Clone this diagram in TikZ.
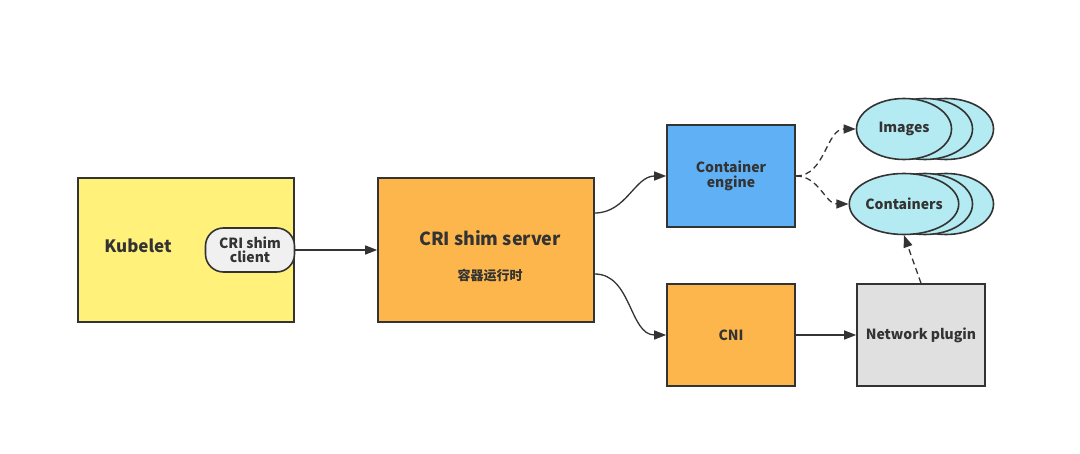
\documentclass[tikz,border=0pt]{standalone}
\usepackage{fontspec}
\setmainfont{Noto Sans CJK SC}
\usetikzlibrary{shapes.geometric, arrows.meta}
\definecolor{ink}{HTML}{333333}
\definecolor{kyellow}{HTML}{FFF17A}
\definecolor{korange}{HTML}{FDB64B}
\definecolor{kblue}{HTML}{60B0F5}
\definecolor{kgray}{HTML}{E0E0E0}
\definecolor{kcyan}{HTML}{B4EBF2}

\begin{document}
\begin{tikzpicture}[x=1pt,y=-1pt,
  box/.style={draw=ink,line width=1.6pt,text=ink,font=\bfseries\fontsize{14}{17}\selectfont,align=center,inner sep=0pt},
  stack/.style={draw=ink,line width=1.6pt,fill=kcyan,ellipse,minimum width=95pt,minimum height=61pt,inner sep=0pt,text=ink,font=\bfseries\fontsize{14}{17}\selectfont},
  link/.style={draw=ink,line width=1.3pt,-{Triangle[length=12pt,width=9pt]}}]
  \useasboundingbox (0,0) rectangle (1080,454);
  % boxes
  \path (186,250) node[box,fill=kyellow,minimum width=216pt,minimum height=144pt] (kubelet) {}
  (138,246) node[text=ink,font=\bfseries\fontsize{17}{20}\selectfont] (kubtext) {Kubelet}
  (250,250) node[box,fill=white!94!black,rounded corners=18pt,minimum width=89pt,minimum height=44pt] (client) {CRI shim\\[-3pt]client}
  (486,250) node[box,fill=korange,minimum width=216pt,minimum height=144pt] (server) {}
  (490,238) node[text=ink,font=\bfseries\fontsize{18}{21}\selectfont] (srvtext) {CRI shim server}
  (490,276) node[text=ink,font=\bfseries\fontsize{13}{15}\selectfont] (runtime) {容器运行时}
  (731,176) node[box,fill=kblue,minimum width=128pt,minimum height=102pt] (engine) {Container\\[-2pt]engine}
  (731,335) node[box,fill=korange,minimum width=128pt,minimum height=102pt] (cni) {CNI}
  (921,335) node[box,fill=kgray,minimum width=128pt,minimum height=102pt] (plugin) {Network plugin};
  % stacked ellipses
  \path (946,129) node[stack] (img3) {} (925,129) node[stack] (img2) {} (904,129) node[stack] (img1) {Images}
  (946,204) node[stack] (ctr3) {} (925,204) node[stack] (ctr2) {} (904,204) node[stack] (ctr1) {Containers};
  % connectors
  \draw[link] (client.east) -- (server.west);
  \draw[link] (server.east |- 0,213) to[out=0,in=180] (engine.west);
  \draw[link] (server.east |- 0,274) to[out=0,in=180] (cni.west);
  \draw[link] (cni.east) -- (plugin.west);
  \draw[link,dashed,dash pattern=on 6pt off 4pt] (engine.east) to[out=0,in=180] (img1.west);
  \draw[link,dashed,dash pattern=on 6pt off 4pt] (engine.east) to[out=0,in=180] (ctr1.west);
  \draw[link,dashed,dash pattern=on 6pt off 4pt] (plugin.north) -- (ctr1.south);
\end{tikzpicture}
\end{document}
